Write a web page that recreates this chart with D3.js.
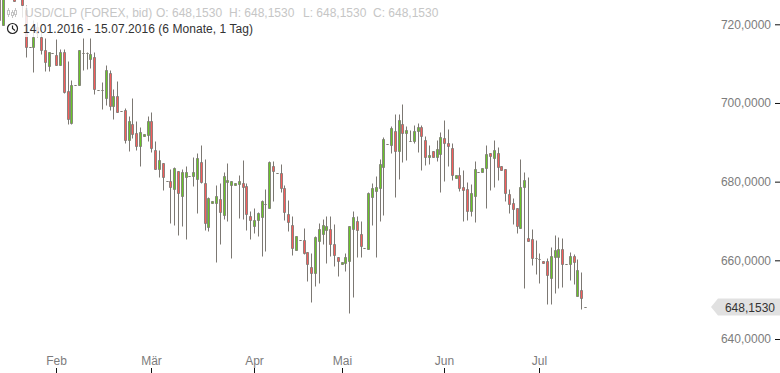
<!DOCTYPE html>
<html>
<head>
<meta charset="utf-8">
<script src="https://cdn.jsdelivr.net/npm/d3@7"></script>
<style>
    body { margin: 0; background: #fff; }
    svg { display: block; }
    text { font-family: "Liberation Sans", Arial, sans-serif; font-size: 12px; }
</style>
</head>
<body>
<div id="chart"></div>
<script>
// USD/CLP daily candles
var opens = [728.7,719.8,729.7,728,727.7,729,727.4,723.6,714.2,714.2,
    719.3,716.8,713.5,709.4,712.6,712.2,709.7,713.0,703.0,694.9,
    704.5,704.6,712.6,712.6,711.2,711.7,703.3,703.3,701.3,707.6,
    699.2,701.8,697.9,698.2,690.6,694.7,692.4,689.1,691.6,691.9,
    695.4,688.0,683.2,684.7,680.1,680.2,678.1,682.7,676.4,681.2,
    681.5,681.4,680.7,685.0,679.7,668.5,674.6,674.6,675.6,671.5,
    679.9,679.1,679.1,679.4,679.7,678.9,671.3,668.7,670.3,671.0,
    674.3,673.3,684.0,682.2,682.2,678.4,671.8,669.0,662.6,665.2,
    665.2,662.1,658.3,656.8,664.9,666.7,667.7,668.0,664.1,660.8,
    659.1,659.3,659.8,668.0,670.0,666.7,663.1,662.9,676.1,677.6,
    678.4,683.7,689.6,689.3,692.9,687.8,694.7,692.4,690.3,690.3,
    692.9,693.9,690.6,686.3,687.8,686.3,687.0,691.1,689.8,688.6,
    680.9,681.7,678.6,678.1,672.5,676.4,682.5,682.5,683.5,687.3,
    686.0,687.3,684.0,683.2,676.9,674.6,673.3,668.2,678.6,665.7,
    665.4,660.6,660.3,659.8,659.8,655.5,660.8,660.8,662.9,659.1,
    659.1,661.1,650.9,652.5,648.153];

var closes = [721.1,727.4,727.7,729,725.8,727.5,724.9,714.2,714.2,716.8,
    717.8,713.5,710.4,713.0,712.6,709.7,713.0,702.8,695.9,704.6,
    704.5,713.5,712.6,712.6,712.4,703.6,703.3,703.3,708.4,699.2,
    701.8,697.7,697.9,690.6,695.4,692.1,689.1,692.6,692.1,695.4,
    688.6,683.2,685.5,681.2,680.1,678.6,683.5,677.1,682.5,682.5,
    681.5,682.5,686.0,679.9,669.5,675.8,675.1,676.4,672.3,681.4,
    680.4,680.2,679.7,680.2,678.6,671.8,670.3,670.3,672.0,675.1,
    674.3,685.0,682.7,682.2,678.4,672.3,669.7,663.1,666.2,665.2,
    661.9,659.1,656.8,665.9,668.0,669.0,668.7,664.1,661.4,659.8,
    659.6,660.8,668.7,671.0,667.7,663.6,663.1,677.1,678.4,678.6,
    684.5,690.8,689.6,693.6,687.8,695.7,692.4,693.1,690.3,692.9,
    693.9,691.6,686.3,686.8,686.3,688.3,691.3,689.8,689.1,681.7,
    681.7,678.4,677.9,672.5,677.1,683.2,682.5,683.5,687.0,686.5,
    688.0,683.7,683.0,677.1,674.3,673.0,668.7,678.6,680.4,664.9,
    660.6,660.6,660.3,659.3,656.3,661.1,662.6,662.9,659.1,659.1,
    661.1,659.6,657.5,650.4,648.153];

var highs = [729.2,727.9,730.2,729.8,728.5,729.7,727.9,724.9,714.2,721.1,
    720.6,718.5,716.5,713.0,712.6,716.3,713.7,713.7,710.7,705.8,
    704.5,713.5,716.5,713.0,716.5,713.0,703.3,705.3,709.7,708.4,
    703.6,705.6,697.9,698.7,696.7,701.3,695.4,693.9,692.1,696.7,
    697.7,690.3,688.0,684.7,680.1,683.2,683.7,682.7,683.2,684.0,
    681.5,686.3,687.3,689.3,685.8,676.1,675.1,679.1,679.7,682.5,
    684.7,680.2,679.7,681.7,685.5,679.7,672.5,673.3,672.3,675.3,
    678.1,685.2,685.2,682.2,684.5,679.1,675.3,671.3,666.2,665.2,
    668.2,662.1,661.9,666.2,669.5,670.5,671.3,671.3,669.2,660.8,
    659.6,661.9,668.7,672.5,671.3,670.0,663.1,677.4,679.7,681.4,
    685.8,691.3,689.6,694.1,697.2,697.2,699.7,694.1,693.1,694.4,
    694.9,694.4,691.6,689.3,687.8,690.6,692.6,695.7,693.4,689.8,
    681.7,683.7,683.0,679.9,679.4,685.2,682.5,683.5,689.3,687.3,
    690.6,688.8,684.0,683.2,678.1,675.8,673.3,685.8,682.5,681.2,
    668.0,665.2,661.9,659.8,660.6,663.4,666.4,665.9,665.7,659.1,
    662.1,661.6,660.3,657.0,648.153];

var lows = [720.6,719.7,727.2,727.6,725.8,727.2,721.9,711.7,714.2,707.9,
    716.8,712.4,708.1,708.1,712.6,709.7,709.7,702.5,694.7,694.7,
    704.5,704.6,708.4,708.6,708.9,702.3,703.3,698.5,699.5,698.2,
    695.9,697.7,697.9,689.8,687.8,691.1,688.0,684.0,691.6,690.3,
    687.5,683.2,681.2,677.9,680.1,669.5,669.0,666.4,668.7,665.4,
    681.5,678.9,672.0,679.7,667.7,667.5,674.6,659.6,664.1,670.5,
    670.0,660.6,679.1,670.8,670.5,667.7,665.4,666.9,666.2,661.1,
    662.4,673.3,675.1,682.2,677.4,670.3,667.5,661.4,662.6,665.2,
    661.6,654.7,649.4,653.5,654.2,664.1,659.3,661.1,658.6,656.0,
    659.1,657.3,646.6,650.7,660.8,660.8,663.1,662.9,669.0,660.8,
    670.0,671.5,689.6,687.3,676.1,680.7,685.0,685.5,690.3,689.8,
    687.5,683.0,684.2,684.5,686.3,685.2,677.4,680.2,684.0,680.4,
    680.9,677.6,670.0,670.3,671.3,669.7,682.5,682.5,673.3,677.9,
    678.6,680.4,683.0,675.1,672.0,669.2,666.9,668.2,653.0,664.9,
    658.8,656.5,654.2,659.3,648.9,648.9,651.7,653.0,653.2,659.1,
    655.0,654.0,650.9,647.6,648.153];

var priceTicks = [640, 660, 680, 700, 720];
var monthLabels = ["Feb", "Mär", "Apr", "Mai", "Jun", "Jul"];
var monthCandle = [15, 40, 67, 90, 117, 142];   // candle index of the 1st of each month

var symbolText = "USD/CLP (FOREX, bid)";
var quoteLabels = ["O: 648,1530", "H: 648,1530", "L: 648,1530", "C: 648,1530"];
var quoteLeft = [156, 229, 303, 373];
var rangeText = "14.01.2016 - 15.07.2016 (6 Monate, 1 Tag)";
var lastPrice = 648.153;

var width = 780, height = 373;
var gray = "#7c7873", red = "#f65c5c", green = "#68c428";
var commaFmt = function(v) { return d3.format(".4f")(v).replace(".", ","); };

var svg = d3.select("#chart").append("svg")
    .attr("width", width)
    .attr("height", height);

var xScale = d3.scaleLinear().domain([0, closes.length - 1]).range([-0.3, 585.5]);
var yScale = d3.scaleLinear().domain([640, 720]).range([339, 24.3]);

// pixel snapping, the candles sit on whole pixels in the original
var px = function(i) { return Math.floor(xScale(i)) + 0.5; };
var py = function(v) { return Math.round(yScale(v)) + 0.5; };

/* candles */
var candles = svg.append("g").selectAll("g")
    .data(d3.range(closes.length))
    .enter()
    .append("g");

candles.append("line")
    .attr("x1", px).attr("x2", px)
    .attr("y1", function(i) { return py(highs[i]); })
    .attr("y2", function(i) { return py(lows[i]); })
    .attr("stroke", gray);

candles.append("path")
    .attr("d", function(i) {
        var top = py(Math.max(opens[i], closes[i]));
        var bot = py(Math.min(opens[i], closes[i]));
        return "M" + (px(i) - 1) + "," + top + "H" + (px(i) + 1) + "V" + bot + "H" + (px(i) - 1) + "Z";
    })
    .attr("fill", function(i) { return closes[i] > opens[i] ? green : red; })
    .attr("stroke", gray)
    .attr("stroke-width", 0.85);

/* header sits over the candles with a white veil */
svg.append("rect")
    .attr("x", 6).attr("y", 6)
    .attr("width", 250).attr("height", 31)
    .attr("fill", "#fff").attr("opacity", 0.82);

var icon = svg.append("g").attr("stroke", "#c4c4c4").attr("fill", "#fff");
icon.append("path").attr("d", "M8.5,8V17M12.5,10V18M15.5,8V17");
icon.append("rect").attr("x", 7.5).attr("y", 10.5).attr("width", 2).attr("height", 4);
icon.append("rect").attr("x", 11.5).attr("y", 12.5).attr("width", 2).attr("height", 3);
icon.append("rect").attr("x", 14.5).attr("y", 10.5).attr("width", 2).attr("height", 4);

svg.append("text")
    .attr("x", 25).attr("y", 17)
    .attr("fill", "#c6c6c6")
    .text(symbolText);

svg.selectAll(".quote")
    .data(quoteLabels)
    .enter()
    .append("text")
    .attr("class", "quote")
    .attr("x", function(d, i) { return quoteLeft[i]; })
    .attr("y", 17)
    .attr("fill", "#c6c6c6")
    .text(function(d) { return d; });

// clock
var clock = svg.append("g").attr("fill", "none").attr("stroke", "#222").attr("stroke-width", 1.2);
clock.append("circle").attr("cx", 12.5).attr("cy", 28.5).attr("r", 5);
clock.append("path").attr("d", "M12.5,25.5V28.5L15,30.5");

svg.append("text")
    .attr("x", 23).attr("y", 33)
    .attr("fill", "#333")
    .style("letter-spacing", "0.05px")
    .text(rangeText);

/* axes */
var yAxis = d3.axisLeft(yScale)
    .tickValues(priceTicks)
    .tickSize(5)
    .tickPadding(4)
    .tickFormat(commaFmt);

var yG = svg.append("g")
    .attr("transform", "translate(" + width + ",0)")
    .call(yAxis);
yG.select(".domain").remove();
yG.selectAll("line").attr("stroke", "#111");
yG.selectAll("text").attr("fill", "#7c7c7c").style("font-size", "12px");

var xAxis = d3.axisTop(xScale)
    .tickValues(monthCandle)
    .tickSize(5)
    .tickPadding(3)
    .tickFormat(function(d, i) { return monthLabels[i]; });

var xG = svg.append("g")
    .attr("transform", "translate(0," + height + ")")
    .call(xAxis);
xG.select(".domain").remove();
xG.selectAll(".tick").attr("transform", function(d) { return "translate(" + px(d) + ",0)"; });
xG.selectAll("line").attr("stroke", "#111");
xG.selectAll("text").attr("fill", "#7c7c7c").style("font-size", "12px");

/* last price tag */
var tagY = yScale(lastPrice);
svg.append("path")
    .attr("d", "M711," + tagY + "L718," + (tagY - 8.5) + "H780V" + (tagY + 8.5) + "H718Z")
    .attr("fill", "#e1e1e1");

svg.append("text")
    .attr("x", 775).attr("y", tagY + 5)
    .attr("text-anchor", "end")
    .attr("fill", "#333")
    .text(commaFmt(lastPrice));
</script>
</body>
</html>
